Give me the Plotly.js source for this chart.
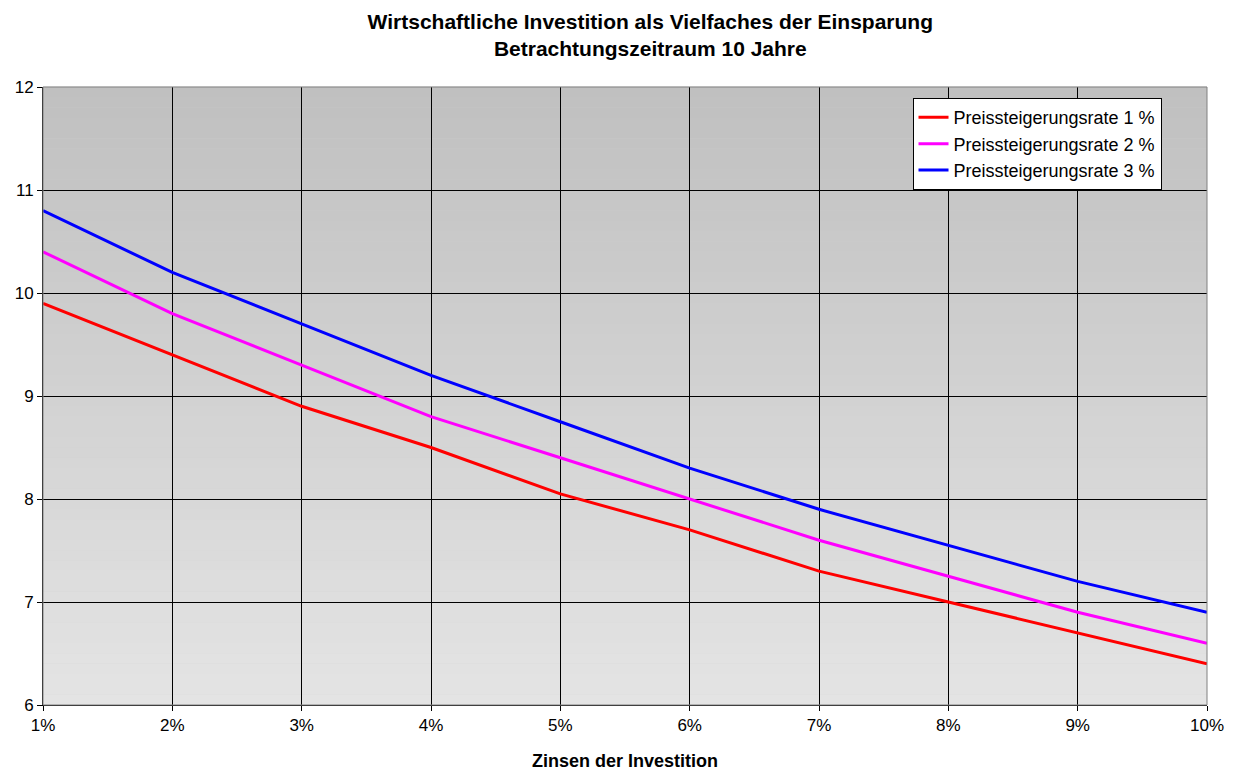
<!DOCTYPE html>
<html>
<head>
<meta charset="utf-8">
<script src="https://cdn.plot.ly/plotly-3.0.1.min.js"></script>
<style>html,body{margin:0;padding:0;background:#fff;}#chart{width:1234px;height:771px;}</style>
</head>
<body>
<div id="chart"></div>
<script>
const categories = ['1%','2%','3%','4%','5%','6%','7%','8%','9%','10%'];
const xPos = [1,2,3,4,5,6,7,8,9,10];
const rate1 = [9.9, 9.4, 8.9, 8.5, 8.05, 7.7, 7.3, 7.0, 6.7, 6.4];
const rate2 = [10.4, 9.8, 9.3, 8.8, 8.4, 8.0, 7.6, 7.25, 6.9, 6.6];
const rate3 = [10.8, 10.2, 9.7, 9.2, 8.75, 8.3, 7.9, 7.55, 7.2, 6.9];
const seriesNames = ['Preissteigerungsrate 1 %','Preissteigerungsrate 2 %','Preissteigerungsrate 3 %'];
const yTicks = [6,7,8,9,10,11,12];

const FONT = 'Liberation Sans, Arial, sans-serif';

const traces = [
  {x: xPos, y: rate1, name: seriesNames[0], mode: 'lines', line: {color: '#ff0000', width: 3}},
  {x: xPos, y: rate2, name: seriesNames[1], mode: 'lines', line: {color: '#ff00ff', width: 3}},
  {x: xPos, y: rate3, name: seriesNames[2], mode: 'lines', line: {color: '#0000ff', width: 3}}
];

// gradient background bands (grey, darker at top)
const shapes = [];
const N = 60;
for (let i = 0; i < N; i++) {
  const t = i / (N - 1);
  const c = Math.round(0xc0 + (0xe4 - 0xc0) * t);
  const col = 'rgb(' + c + ',' + c + ',' + c + ')';
  shapes.push({type: 'rect', xref: 'x domain', yref: 'y domain', x0: 0, x1: 1,
    y0: 1 - (i + 1) / N, y1: 1 - i / N + 0.0005, fillcolor: col, line: {width: 0}, layer: 'below'});
}
shapes.push({type: 'rect', xref: 'x domain', yref: 'y domain', x0: 0, x1: 1, y0: 0, y1: 1,
  fillcolor: 'rgba(0,0,0,0)', line: {color: '#808080', width: 1}, layer: 'above'});

const layout = {
  width: 1234, height: 771,
  margin: {l: 43, r: 27, t: 87, b: 66},
  paper_bgcolor: '#ffffff',
  plot_bgcolor: '#d0d0d0',
  font: {family: FONT, size: 17, color: '#000'},
  title: {text: '<b>Wirtschaftliche Investition als Vielfaches der Einsparung</b><br><b>Betrachtungszeitraum 10 Jahre</b>',
    font: {family: FONT, size: 21, color: '#000'}, x: 0.527, xanchor: 'center',
    yref: 'container', y: 0.963, yanchor: 'middle'},
  xaxis: {
    range: [1, 10], tickvals: xPos, ticktext: categories,
    showgrid: true, gridcolor: '#000', gridwidth: 1,
    ticks: 'outside', ticklen: 5, tickcolor: '#000',
    showline: true, linecolor: '#000', linewidth: 1,
    zeroline: false, tickfont: {family: FONT, size: 17},
    title: {text: '<b>Zinsen der Investition</b>', font: {family: FONT, size: 18}, standoff: 20}
  },
  yaxis: {
    range: [6, 12], tickvals: yTicks,
    showgrid: true, gridcolor: '#000', gridwidth: 1,
    ticks: 'outside', ticklen: 5, tickcolor: '#000',
    showline: true, linecolor: '#000', linewidth: 1,
    zeroline: false, tickfont: {family: FONT, size: 17}
  },
  legend: {x: 0.747, y: 0.982, xanchor: 'left', yanchor: 'top',
    bgcolor: '#ffffff', bordercolor: '#000', borderwidth: 1,
    font: {family: FONT, size: 18}, tracegroupgap: 0, itemwidth: 30},
  showlegend: true,
  shapes: shapes
};

Plotly.newPlot('chart', traces, layout, {displayModeBar: false, staticPlot: true});
</script>
</body>
</html>
